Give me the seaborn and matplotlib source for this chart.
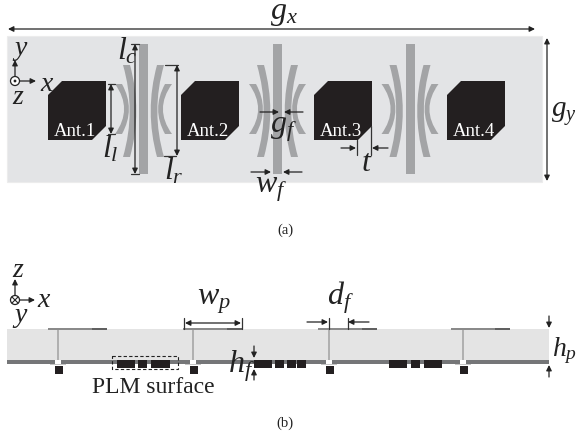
import numpy as np
import pandas as pd
import matplotlib
matplotlib.use('Agg')
import matplotlib.pyplot as plt
import seaborn as sns
from matplotlib.patches import Rectangle, Polygon, PathPatch, Circle
from matplotlib.path import Path

# everything below is in picture pixels, y going down
ant_left = [48, 181, 314, 447]
ant_names = ['Ant.1', 'Ant.2', 'Ant.3', 'Ant.4']
strip_centers = [143.5, 277.5, 410]
patch_left = [48, 183, 318, 451]
feed_x = [58, 193, 329, 463]
plm_blocks = [(117, 126), (126, 135), (138, 147), (151, 160), (160, 170),
              (254, 263), (263, 272), (275, 284), (287, 296), (297, 306),
              (389, 399), (399, 407), (411, 420), (424, 433), (433, 442)]

# (x0, y0, x1, y1)
single_arrows = [(15, 76, 15, 60), (20, 81, 36, 81), (15, 295, 15, 279), (20, 300, 35, 300),
                 (260, 112, 279, 112), (303, 112, 284, 112), (251, 172, 271, 172), (302, 172, 283, 172),
                 (341, 148, 356, 148), (388, 148, 372, 148), (307, 322, 328, 322), (369, 322, 348, 322),
                 (254, 346, 254, 358), (254, 380, 254, 369), (549, 316, 549, 328), (549, 377, 549, 365)]
double_arrows = [(8, 29, 535, 29), (547, 38, 547, 181), (135, 44, 135, 174), (111, 84, 111, 134),
                 (177, 65, 177, 156), (185, 323, 241, 323)]
leaders = [(131, 44, 139, 44), (131, 174, 139, 174), (108, 84, 115, 84), (108, 134, 115, 134),
           (165, 65, 178, 65), (164, 156, 176, 156), (357, 140, 357, 155), (371, 126, 371, 155),
           (184, 318, 184, 329), (242, 318, 242, 329), (329, 318, 329, 329), (347.5, 318, 347.5, 329)]

# (x, baseline, text, size)
labels = [(270, 19, r'$g_x$', 23), (551, 117, r'$g_y$', 21),
          (117, 59, r'$l_c$', 23), (102, 158, r'$l_l$', 23),
          (164, 180, r'$l_r$', 23), (270, 132, r'$g_f$', 23),
          (255, 192, r'$w_f$', 23), (361, 171, r'$t$', 23),
          (12, 55, r'$y$', 20), (40, 91, r'$x$', 20), (12, 104, r'$z$', 20),
          (12, 277, r'$z$', 20), (37, 307, r'$x$', 20), (12, 322, r'$y$', 20),
          (197, 305, r'$w_p$', 23), (327, 305, r'$d_f$', 23),
          (228, 372, r'$h_f$', 23), (552, 356, r'$h_p$', 20)]

sns.set_style('white')
plt.rcParams['font.family'] = ['Liberation Serif', 'DejaVu Serif']
plt.rcParams['mathtext.fontset'] = 'custom'
plt.rcParams['mathtext.it'] = 'Liberation Serif:italic'
plt.rcParams['mathtext.rm'] = 'Liberation Serif'

fig = plt.figure(figsize=(5.78, 4.41), dpi=100)
ax = fig.add_axes([0, 0, 1, 1])

# panel (a)
ax.add_patch(Rectangle((7, 36), 535, 146, fc='#e3e4e6', ec='#ececec', lw=0.8))


def arc(x_top, x_mid, hw_end, hw_mid, y_top, y_bot):
    # curved strip, thinner in the middle than at its ends
    y_mid = (y_top + y_bot) / 2
    ctrl = 2 * x_mid - x_top
    bulge = 2 * hw_mid - hw_end
    verts = [(x_top - hw_end, y_top), (x_top + hw_end, y_top),
             (ctrl + bulge, y_mid), (x_top + hw_end, y_bot),
             (x_top - hw_end, y_bot), (ctrl - bulge, y_mid),
             (x_top - hw_end, y_top), (x_top - hw_end, y_top)]
    codes = [Path.MOVETO, Path.LINETO, Path.CURVE3, Path.CURVE3, Path.LINETO,
             Path.CURVE3, Path.CURVE3, Path.CLOSEPOLY]
    return PathPatch(Path(verts, codes), fc='#a3a4a6', ec='none')


for cx in strip_centers:
    ax.add_patch(Rectangle((cx - 4.5, 44), 9, 130, fc='#a3a4a6', ec='none'))
    for sign in (-1, 1):
        ax.add_patch(arc(cx + sign * 17, cx + sign * 10.5, 3.5, 3.3, 65, 157))
        ax.add_patch(arc(cx + sign * 25, cx + sign * 17, 3.5, 2.4, 84, 134))

for x0, name in zip(ant_left, ant_names):
    ax.add_patch(Polygon([(x0, 95), (x0 + 14, 81), (x0 + 58, 81), (x0 + 58, 126),
                          (x0 + 44, 140), (x0, 140)], fc='#231f20', ec='none'))
    ax.text(x0 + 5.5, 136, name, color='white', fontsize=13.5, va='baseline')

# panel (b)
ax.add_patch(Rectangle((7, 329), 542, 32, fc='#e4e4e4', ec='none'))
ax.add_patch(Rectangle((7, 360), 542, 3.5, fc='#757678', ec='none'))
for x0, fx in zip(patch_left, feed_x):
    ax.add_patch(Rectangle((x0, 328), 59, 2, fc='#8a8a8a', ec='none'))
    ax.add_patch(Rectangle((x0 + 44, 328), 15, 2, fc='#606060', ec='none'))
    ax.add_patch(Rectangle((fx - 1, 330), 2, 31, fc='#b0b0b0', ec='none'))
    ax.add_patch(Rectangle((fx - 8, 363.5), 16, 1.8, fc='#c4c4c4', ec='none'))
    ax.add_patch(Rectangle((fx - 3, 360), 6, 3.5, fc='white', ec='none'))
for x0, x1 in plm_blocks:
    ax.add_patch(Rectangle((x0, 360), x1 - x0 - 0.5, 8, fc='#231f20', ec='none'))
stubs = pd.DataFrame({'x': [x + 0.5 for x in feed_x], 'y': [370] * 4})
sns.scatterplot(data=stubs, x='x', y='y', marker='s', s=36, color='#231f20', linewidth=0, legend=False, ax=ax)
ax.add_patch(Rectangle((112, 356), 66, 13, fc='none', ec='#222222', lw=0.8, ls=(0, (3, 2))))
ax.text(92, 393, 'PLM surface', fontsize=17, color='#222222', va='baseline')

# thin leader lines
rows = []
for i, (x0, y0, x1, y1) in enumerate(leaders):
    rows += [{'x': x0, 'y': y0, 'line': i}, {'x': x1, 'y': y1, 'line': i}]
sns.lineplot(data=pd.DataFrame(rows), x='x', y='y', units='line', estimator=None, sort=False,
             color='#333333', linewidth=0.9, legend=False, ax=ax)

for x0, y0, x1, y1 in single_arrows:
    ax.annotate('', xy=(x1, y1), xytext=(x0, y0),
                arrowprops=dict(arrowstyle='-|>', color='#222222', lw=0.9, mutation_scale=8, shrinkA=0, shrinkB=0))
for x0, y0, x1, y1 in double_arrows:
    ax.annotate('', xy=(x1, y1), xytext=(x0, y0),
                arrowprops=dict(arrowstyle='<|-|>', color='#222222', lw=0.9, mutation_scale=8, shrinkA=0, shrinkB=0))

# coordinate marks
ax.add_patch(Circle((15, 81), 4.5, fc='white', ec='#222222', lw=0.9))
ax.add_patch(Circle((15, 81), 1.4, fc='#222222', ec='none'))
ax.add_patch(Circle((15, 300), 4.5, fc='white', ec='#222222', lw=0.9))
sns.lineplot(x=[12, 18], y=[297, 303], sort=False, estimator=None, color='#222222', linewidth=0.8, ax=ax)
sns.lineplot(x=[12, 18], y=[303, 297], sort=False, estimator=None, color='#222222', linewidth=0.8, ax=ax)

for x, y, s, size in labels:
    ax.text(x, y, s, fontsize=size, color='#222222', va='baseline')
ax.text(285, 234, '(a)', fontsize=10.5, ha='center', va='baseline', color='#222222')
ax.text(285, 427, '(b)', fontsize=10.5, ha='center', va='baseline', color='#222222')

ax.set_xlim(0, 578)
ax.set_ylim(441, 0)
ax.axis('off')
fig.savefig('out.png', dpi=100)
